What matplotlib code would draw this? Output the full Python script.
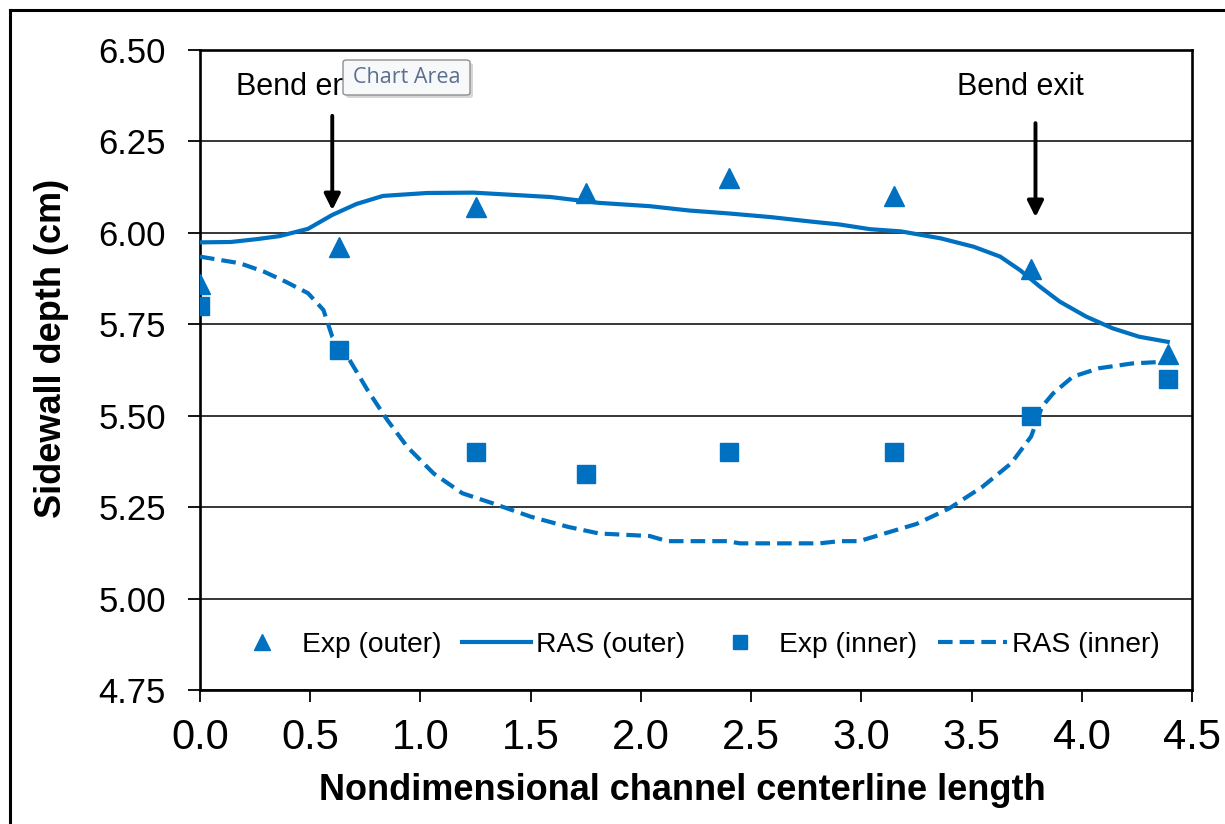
import matplotlib
matplotlib.use('Agg')
import matplotlib.pyplot as plt
from matplotlib.patches import FancyBboxPatch
from matplotlib.lines import Line2D

plt.rcParams['font.family'] = ['Liberation Sans', 'DejaVu Sans']

BLUE = '#0070C0'

# ---------------- data ----------------
exp_x = [0.00, 0.63, 1.25, 1.75, 2.40, 3.15, 3.77, 4.39]
exp_outer = [5.86, 5.96, 6.07, 6.11, 6.15, 6.10, 5.90, 5.67]
exp_inner = [5.80, 5.68, 5.40, 5.34, 5.40, 5.40, 5.50, 5.60]

ras_outer_x = [0.00, 0.14, 0.26, 0.36, 0.49, 0.60, 0.71, 0.83, 1.03, 1.24,
               1.59, 1.81, 2.04, 2.22, 2.40, 2.59, 2.77, 2.90, 3.04, 3.18,
               3.36, 3.51, 3.63, 3.72, 3.81, 3.90, 4.02, 4.14, 4.26, 4.39]
ras_outer_y = [5.974, 5.975, 5.983, 5.991, 6.011, 6.049, 6.079, 6.101, 6.109, 6.110,
               6.098, 6.082, 6.073, 6.061, 6.053, 6.043, 6.031, 6.023, 6.010, 6.004,
               5.985, 5.962, 5.935, 5.898, 5.853, 5.812, 5.771, 5.739, 5.716, 5.702]

ras_inner_x = [0.00, 0.18, 0.29, 0.39, 0.49, 0.56, 0.60, 0.67, 0.76, 0.85,
               0.94, 1.06, 1.19, 1.33, 1.50, 1.67, 1.81, 2.04, 2.12, 2.39,
               2.45, 2.81, 2.90, 2.99, 3.10, 3.25, 3.40, 3.55, 3.68, 3.77,
               3.82, 3.87, 3.96, 4.08, 4.23, 4.39]
ras_inner_y = [5.935, 5.917, 5.894, 5.866, 5.835, 5.789, 5.716, 5.661, 5.570, 5.488,
               5.415, 5.342, 5.288, 5.260, 5.224, 5.196, 5.178, 5.171, 5.157, 5.157,
               5.151, 5.151, 5.157, 5.157, 5.177, 5.204, 5.247, 5.306, 5.370, 5.443,
               5.525, 5.561, 5.607, 5.630, 5.643, 5.648]

y_ticks = [4.75, 5.00, 5.25, 5.50, 5.75, 6.00, 6.25, 6.50]
x_ticks = [0.0, 0.5, 1.0, 1.5, 2.0, 2.5, 3.0, 3.5, 4.0, 4.5]

legend_labels = ['Exp (outer)', 'RAS (outer)', 'Exp (inner)', 'RAS (inner)']
annot_labels = ['Bend entrance', 'Bend exit']
annot_x = [0.60, 3.79]

# ---------------- figure ----------------
W, H = 1225, 824
fig = plt.figure(figsize=(W / 100, H / 100), dpi=100)
ax = fig.add_axes([200 / W, 134 / H, 992 / W, 640 / H])

h1, = ax.plot(exp_x, exp_outer, linestyle='none', marker='^', markersize=14.5,
              color=BLUE, zorder=4)
h2, = ax.plot(ras_outer_x, ras_outer_y, color=BLUE, lw=3, zorder=3)
h3, = ax.plot(exp_x, exp_inner, linestyle='none', marker='s', markersize=13,
              color=BLUE, zorder=4)
h4, = ax.plot(ras_inner_x, ras_inner_y, color=BLUE, lw=3, zorder=3,
              linestyle=(0, (3.5, 1.7)))

ax.set_xlim(x_ticks[0], x_ticks[-1])
ax.set_ylim(y_ticks[0], y_ticks[-1])
ax.set_xticks(x_ticks)
ax.set_yticks(y_ticks)
ax.set_xticklabels([f'{v:.1f}' for v in x_ticks])
ax.set_yticklabels([f'{v:.2f}' for v in y_ticks])
ax.yaxis.grid(True, color='black', lw=1.1)
ax.set_axisbelow(True)
for s in ax.spines.values():
    s.set_linewidth(1.9)
    s.set_color('black')
ax.tick_params(axis='both', direction='out', length=8.5, width=1.3, color='black')
ax.tick_params(axis='y', labelsize=25, pad=16)
ax.tick_params(axis='x', labelsize=30, pad=12)

# annotations
ax.text(0.615, 6.40, annot_labels[0], fontsize=22, ha='center', va='center', zorder=5)
ax.text(3.72, 6.40, annot_labels[1], fontsize=22, ha='center', va='center', zorder=5)
ax.annotate('', xy=(annot_x[0], 6.062), xytext=(annot_x[0], 6.32),
            arrowprops=dict(arrowstyle='-|>', lw=2.8, color='black', mutation_scale=24,
                            shrinkA=0, shrinkB=0))
ax.annotate('', xy=(annot_x[1], 6.043), xytext=(annot_x[1], 6.30),
            arrowprops=dict(arrowstyle='-|>', lw=2.8, color='black', mutation_scale=24,
                            shrinkA=0, shrinkB=0))

leg = ax.legend([h1, h2, h3, h4], legend_labels, ncol=4, frameon=False,
                loc='center left', bbox_to_anchor=(0.028, 0.0703), borderpad=0,
                fontsize=20.3, handlelength=2.45, handletextpad=0.18,
                columnspacing=0.72, markerscale=0.8, borderaxespad=0)

# axis labels
fig.text(52 / W, 1 - 348 / H, 'Sidewall depth (cm)', rotation=90, fontsize=26,
         fontweight='bold', ha='center', va='center')
fig.text(682 / W, 1 - 791 / H, 'Nondimensional channel centerline length', fontsize=26,
         fontweight='bold', ha='center', va='center')

# "Chart Area" tooltip
bx0, by0, bx1, by1 = 343, 60, 470, 95
shadow = FancyBboxPatch(((bx0 + 3) / W, 1 - (by1 + 3) / H), (bx1 - bx0) / W, (by1 - by0) / H,
                        boxstyle='round,pad=0,rounding_size=0.003', transform=fig.transFigure,
                        facecolor='#bbbbbb', edgecolor='none', alpha=0.6, zorder=9)
box = FancyBboxPatch((bx0 / W, 1 - by1 / H), (bx1 - bx0) / W, (by1 - by0) / H,
                     boxstyle='round,pad=0,rounding_size=0.003', transform=fig.transFigure,
                     facecolor='#f7f8fa', edgecolor='#8f8f8f', lw=1.0, zorder=10)
fig.add_artist(shadow)
fig.add_artist(box)
fig.text((bx0 + bx1) / 2 / W, 1 - (by0 + by1) / 2 / H, 'Chart Area', fontsize=15.5,
         color='#5b6f8f', ha='center', va='center', family=['Open Sans', 'DejaVu Sans'],
         zorder=11)

# outer chart border (left and top visible)
fig.add_artist(Line2D([9.5 / W, 9.5 / W], [0, 1 - 9.5 / H], transform=fig.transFigure,
                      color='black', lw=2.2))
fig.add_artist(Line2D([9.5 / W, 1], [1 - 9.5 / H, 1 - 9.5 / H], transform=fig.transFigure,
                      color='black', lw=2.2))

fig.savefig('out.png', dpi=100)
